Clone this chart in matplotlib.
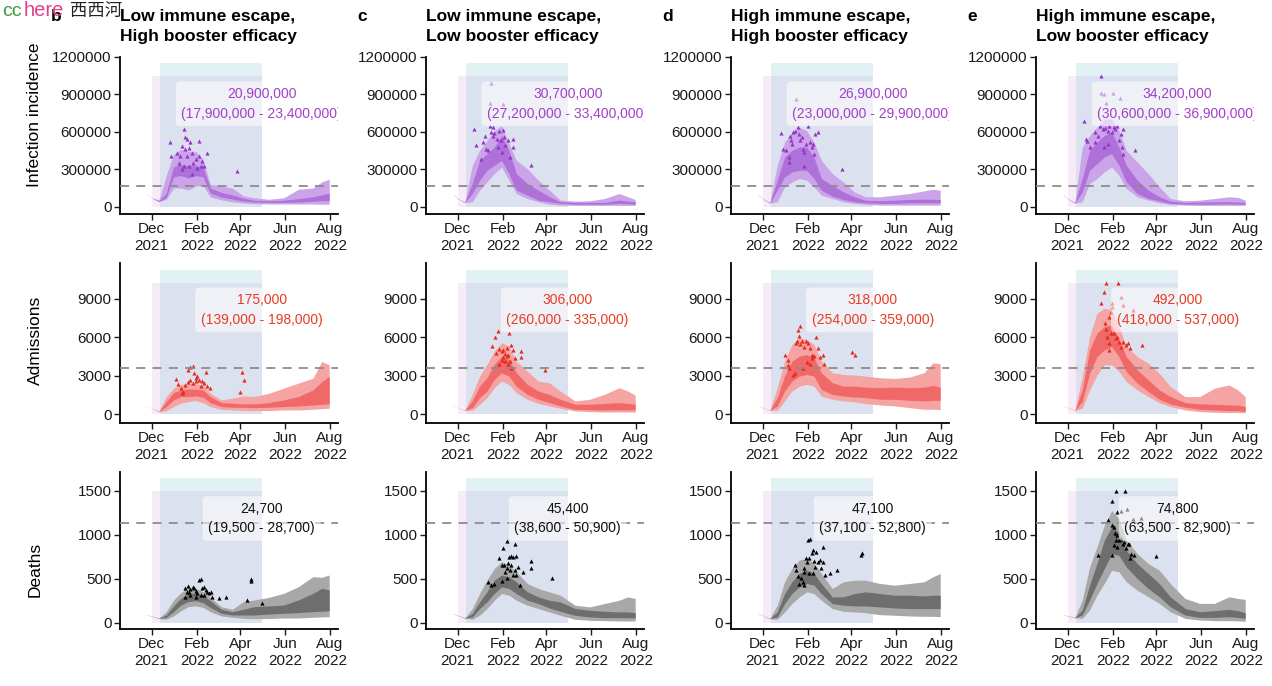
import numpy as np
import pandas as pd
import matplotlib
matplotlib.use("Agg")
import matplotlib.pyplot as plt

plt.rcParams['font.family'] = ['Liberation Sans', 'DejaVu Sans']

# ---- shared time grid for the projection bands ----
band_dates = ['2021-11-25', '2021-12-01', '2021-12-11', '2021-12-21', '2021-12-31',
              '2022-01-10', '2022-01-20', '2022-01-30', '2022-02-09', '2022-02-19',
              '2022-03-06', '2022-03-21', '2022-04-05', '2022-04-20', '2022-05-10',
              '2022-05-30', '2022-06-19', '2022-07-09', '2022-07-21', '2022-07-31']
obs_origin = '2021-12-01'   # observation days are counted from here

scenarios = ['b', 'c', 'd', 'e']
titles = ['Low immune escape,\nHigh booster efficacy',
          'Low immune escape,\nLow booster efficacy',
          'High immune escape,\nHigh booster efficacy',
          'High immune escape,\nLow booster efficacy']
measures = ['inf', 'adm', 'dth']
ylabels = ['Infection incidence', 'Admissions', 'Deaths']

# ---- infection incidence (thousands) ----
inf_b_lo95 = [98, 72, 40, 60, 150, 150, 135, 165, 170, 80, 55, 40, 30, 25, 22, 22, 22, 22, 20, 20]
inf_b_lo50 = [100, 72, 42, 75, 240, 250, 230, 250, 240, 110, 78, 62, 45, 38, 35, 35, 38, 45, 48, 50]
inf_b_hi50 = [100, 72, 48, 110, 320, 340, 330, 330, 320, 150, 115, 95, 68, 52, 48, 52, 65, 80, 95, 110]
inf_b_hi95 = [102, 74, 55, 250, 420, 460, 445, 445, 380, 180, 165, 150, 88, 72, 60, 72, 140, 150, 200, 220]

inf_c_lo95 = [98, 64, 33, 40, 133, 199, 265, 318, 212, 106, 66, 40, 21, 13, 11, 11, 11, 11, 11, 11]
inf_c_lo50 = [100, 66, 35, 106, 212, 292, 332, 372, 265, 133, 93, 53, 40, 27, 21, 21, 20, 27, 25, 21]
inf_c_hi50 = [100, 66, 37, 186, 372, 425, 478, 570, 451, 265, 186, 133, 80, 40, 35, 35, 35, 53, 45, 40]
inf_c_hi95 = [102, 68, 40, 332, 451, 531, 610, 650, 504, 372, 305, 212, 133, 53, 45, 48, 66, 106, 80, 58]

inf_d_lo95 = [98, 64, 28, 40, 159, 199, 226, 212, 159, 93, 66, 40, 27, 18, 13, 13, 13, 13, 13, 13]
inf_d_lo50 = [100, 66, 30, 133, 239, 279, 292, 292, 226, 133, 85, 58, 40, 32, 27, 27, 32, 32, 32, 32]
inf_d_hi50 = [100, 66, 33, 212, 398, 451, 478, 478, 398, 226, 172, 119, 80, 53, 48, 53, 58, 61, 60, 58]
inf_d_hi95 = [102, 68, 36, 332, 518, 597, 637, 610, 518, 372, 265, 199, 119, 80, 80, 93, 106, 127, 140, 133]

inf_e_lo95 = [98, 64, 28, 40, 186, 226, 279, 318, 252, 146, 80, 53, 32, 18, 13, 11, 11, 11, 11, 11]
inf_e_lo50 = [100, 66, 30, 119, 292, 345, 398, 425, 332, 199, 106, 66, 48, 27, 21, 21, 21, 24, 22, 21]
inf_e_hi50 = [100, 66, 33, 226, 451, 518, 571, 597, 478, 332, 212, 133, 80, 45, 35, 37, 40, 40, 38, 35]
inf_e_hi95 = [102, 68, 36, 478, 571, 637, 704, 704, 610, 451, 358, 265, 159, 66, 48, 53, 66, 80, 75, 53]

# ---- admissions ----
adm_b_lo95 = [640, 460, 190, 290, 600, 860, 990, 1070, 910, 600, 390, 340, 290, 290, 290, 340, 340, 390, 440, 470]
adm_b_lo50 = [650, 470, 210, 600, 1120, 1380, 1380, 1440, 1330, 910, 600, 550, 550, 520, 550, 600, 650, 730, 780, 810]
adm_b_hi50 = [650, 470, 230, 990, 1700, 1900, 1960, 1960, 1900, 1380, 910, 860, 810, 810, 910, 1120, 1380, 1900, 2560, 2950]
adm_b_hi95 = [660, 480, 250, 1380, 2040, 2300, 2430, 2380, 2300, 1640, 1120, 1250, 1440, 1380, 1640, 2040, 2430, 2820, 4120, 3860]

adm_c_lo95 = [640, 510, 300, 310, 780, 1300, 2070, 2590, 2330, 1680, 1170, 850, 650, 470, 260, 210, 180, 180, 180, 170]
adm_c_lo50 = [650, 520, 310, 520, 1300, 1810, 2720, 3240, 2980, 2200, 1550, 1170, 910, 650, 390, 360, 340, 360, 360, 340]
adm_c_hi50 = [650, 520, 320, 1040, 2200, 2850, 3890, 4530, 4270, 3240, 2330, 1810, 1550, 1170, 780, 780, 850, 910, 850, 780]
adm_c_hi95 = [660, 530, 330, 1550, 2980, 3890, 4920, 5570, 5310, 4140, 3370, 2590, 2460, 1810, 1040, 1170, 1550, 2070, 1810, 1500]

adm_d_lo95 = [640, 510, 300, 310, 1040, 1810, 2200, 2330, 2200, 1420, 1170, 1040, 980, 830, 730, 650, 520, 390, 390, 370]
adm_d_lo50 = [650, 520, 310, 650, 1810, 2590, 2980, 3110, 2980, 1940, 1550, 1420, 1350, 1300, 1170, 1170, 1090, 1040, 1090, 1090]
adm_d_hi50 = [650, 520, 320, 1300, 2980, 4140, 4530, 4660, 4400, 3240, 2460, 2200, 2200, 2120, 2070, 2120, 2070, 2120, 2250, 2120]
adm_d_hi95 = [660, 530, 330, 2070, 4140, 5440, 5960, 5830, 5440, 4140, 3240, 3110, 3060, 2980, 2850, 2800, 2900, 3240, 4010, 3940]

adm_e_lo95 = [640, 540, 280, 470, 1900, 3070, 3850, 3850, 3330, 2550, 1900, 1380, 910, 600, 340, 210, 160, 130, 130, 130]
adm_e_lo50 = [650, 550, 290, 990, 3200, 4500, 5020, 5280, 4500, 3330, 2420, 1770, 1170, 810, 550, 390, 340, 290, 290, 230]
adm_e_hi50 = [650, 550, 300, 1900, 5020, 6320, 6840, 6970, 5800, 4500, 3460, 2680, 1900, 1380, 910, 810, 780, 730, 720, 600]
adm_e_hi95 = [660, 560, 310, 2940, 6060, 7880, 8270, 8140, 6840, 5280, 4500, 3980, 3200, 2160, 1380, 1380, 2030, 2290, 1900, 1380]

# ---- deaths ----
dth_b_lo95 = [85, 74, 47, 38, 76, 136, 182, 190, 174, 125, 76, 61, 49, 45, 47, 53, 53, 61, 66, 68]
dth_b_lo50 = [87, 76, 49, 61, 125, 200, 239, 250, 227, 174, 106, 87, 87, 87, 98, 106, 114, 125, 130, 136]
dth_b_hi50 = [87, 76, 51, 87, 190, 277, 333, 333, 315, 250, 152, 125, 152, 182, 190, 200, 258, 333, 390, 371]
dth_b_hi95 = [89, 78, 53, 125, 258, 341, 390, 390, 352, 288, 182, 152, 239, 258, 288, 333, 409, 523, 515, 542]

dth_c_lo95 = [101, 82, 51, 38, 84, 160, 255, 331, 312, 255, 198, 160, 122, 84, 38, 27, 23, 19, 19, 19]
dth_c_lo50 = [103, 84, 53, 65, 160, 236, 331, 407, 388, 331, 255, 217, 167, 129, 84, 65, 57, 57, 57, 53]
dth_c_hi50 = [103, 84, 55, 103, 236, 350, 483, 540, 521, 464, 350, 293, 255, 236, 160, 141, 129, 122, 122, 114]
dth_c_hi95 = [105, 86, 57, 160, 331, 483, 616, 692, 654, 578, 445, 388, 350, 312, 198, 179, 217, 255, 293, 274]

dth_d_lo95 = [101, 82, 44, 38, 122, 217, 293, 350, 331, 255, 160, 129, 122, 114, 91, 84, 76, 72, 72, 68]
dth_d_lo50 = [103, 84, 46, 65, 217, 331, 407, 445, 426, 331, 217, 198, 190, 190, 179, 167, 160, 160, 160, 160]
dth_d_hi50 = [103, 84, 48, 122, 331, 464, 559, 597, 559, 445, 293, 293, 331, 350, 331, 312, 312, 304, 312, 312]
dth_d_hi95 = [105, 86, 50, 198, 464, 616, 711, 730, 673, 559, 388, 464, 483, 483, 445, 426, 445, 464, 521, 559]

dth_e_lo95 = [85, 77, 55, 49, 143, 313, 445, 596, 577, 464, 369, 294, 219, 124, 49, 30, 23, 23, 20, 15]
dth_e_lo50 = [87, 79, 57, 87, 256, 445, 614, 784, 765, 633, 501, 388, 294, 181, 87, 60, 60, 68, 60, 49]
dth_e_hi50 = [87, 79, 59, 143, 426, 671, 935, 1086, 1029, 822, 671, 558, 445, 294, 162, 124, 136, 151, 136, 113]
dth_e_hi95 = [89, 81, 61, 256, 633, 860, 1105, 1274, 1180, 935, 784, 671, 596, 445, 275, 219, 219, 294, 275, 264]

# ---- observed / comparison points (days since obs_origin) ----
inf_b_obs_day = [25, 27, 44, 48, 64, 76, 116, 34, 37, 39, 41, 44, 46, 48, 51, 53, 55, 57, 60, 62, 64, 67, 69, 71, 55, 41, 46, 51]
inf_b_obs_val = [520, 407, 627, 541, 523, 429, 287, 434, 354, 407, 488, 327, 461, 407, 327, 515, 434, 354, 380, 314, 407, 327, 367, 327, 260, 300, 555, 474]
inf_c_obs_day = [45, 44, 62, 23, 100, 25, 32, 37, 39, 44, 46, 48, 50, 54, 56, 59, 62, 63, 65, 69, 71, 76, 76, 34, 41, 48, 60, 55]
inf_c_obs_val = [990, 831, 823, 624, 332, 491, 385, 571, 465, 650, 597, 637, 590, 544, 611, 531, 616, 557, 491, 531, 398, 544, 478, 518, 451, 571, 438, 478]
inf_d_obs_day = [25, 28, 32, 36, 38, 39, 41, 44, 46, 48, 50, 51, 54, 55, 57, 56, 59, 62, 64, 67, 69, 70, 71, 76, 36, 108, 40]
inf_d_obs_val = [590, 465, 451, 398, 571, 531, 597, 611, 863, 637, 584, 531, 557, 465, 438, 324, 504, 650, 518, 478, 504, 425, 584, 597, 358, 305, 504]
inf_e_obs_day = [23, 25, 26, 31, 37, 38, 41, 44, 45, 46, 50, 53, 62, 72, 48, 51, 55, 57, 60, 63, 65, 68, 70, 73, 76, 74, 76, 92, 55, 50]
inf_e_obs_val = [685, 544, 526, 478, 597, 518, 571, 650, 1049, 908, 903, 828, 908, 871, 624, 632, 611, 650, 597, 642, 624, 650, 531, 584, 624, 478, 420, 457, 504, 478]

adm_b_obs_day = [33, 36, 40, 43, 46, 50, 52, 56, 58, 60, 62, 65, 67, 69, 71, 74, 76, 80, 49, 53, 57, 61, 123, 126, 121, 42]
adm_b_obs_val = [2740, 2380, 2040, 1770, 2300, 3470, 3680, 3780, 3210, 2820, 2950, 2640, 2170, 2560, 2430, 3260, 2170, 2040, 2480, 2690, 2430, 2560, 3260, 2690, 1700, 1640]
adm_c_obs_day = [55, 70, 51, 47, 53, 57, 60, 62, 64, 67, 69, 71, 73, 76, 78, 87, 87, 57, 60, 64, 69, 73, 62, 67, 119]
adm_c_obs_val = [6530, 6350, 6010, 5310, 4790, 5130, 4920, 5050, 4710, 4530, 4660, 4140, 5390, 5050, 4400, 4920, 4450, 3890, 4270, 4140, 3940, 3630, 4450, 5180, 3420]
adm_d_obs_day = [31, 34, 34, 36, 42, 46, 47, 48, 51, 50, 51, 54, 56, 59, 62, 64, 67, 68, 70, 73, 76, 78, 83, 84, 60, 64, 44, 55, 122, 126]
adm_d_obs_val = [4660, 4200, 3830, 3630, 3060, 5570, 5750, 6600, 6860, 6090, 5490, 5750, 5230, 5700, 5570, 5180, 4660, 4400, 4530, 6010, 5180, 4450, 4660, 3940, 4090, 3940, 3240, 3630, 4840, 4610]
adm_e_obs_day = [45, 49, 52, 69, 59, 60, 61, 73, 76, 89, 51, 52, 54, 56, 56, 59, 63, 66, 68, 70, 73, 76, 79, 83, 85, 102, 56]
adm_e_obs_val = [8660, 9570, 10270, 10270, 8010, 8400, 8660, 9180, 8530, 8140, 7100, 6630, 6060, 5540, 5020, 6320, 6370, 5930, 6060, 5670, 5280, 5670, 5410, 5590, 5150, 5410, 7620]

dth_b_obs_day = [45, 48, 50, 51, 53, 56, 58, 60, 62, 65, 67, 69, 71, 74, 76, 78, 81, 83, 92, 102, 53, 60, 71, 130, 136, 136, 150, 46, 67]
dth_b_obs_val = [390, 352, 417, 352, 379, 402, 390, 364, 333, 485, 493, 390, 402, 371, 352, 333, 352, 296, 277, 288, 315, 296, 315, 258, 478, 496, 227, 296, 315]
dth_c_obs_day = [41, 50, 57, 62, 67, 78, 70, 73, 76, 80, 60, 63, 64, 67, 69, 71, 73, 76, 78, 80, 83, 85, 89, 100, 100, 128, 67, 60, 46]
dth_c_obs_val = [464, 445, 730, 844, 927, 889, 749, 760, 749, 760, 654, 654, 578, 616, 673, 597, 654, 547, 597, 540, 635, 433, 578, 699, 616, 509, 502, 471, 433]
dth_d_obs_day = [44, 46, 48, 50, 53, 55, 56, 57, 59, 60, 62, 64, 63, 67, 69, 70, 71, 73, 76, 78, 80, 82, 83, 85, 92, 101, 134, 135, 69, 63, 57]
dth_d_obs_val = [654, 597, 532, 445, 502, 464, 426, 616, 730, 692, 939, 950, 730, 787, 825, 699, 635, 806, 692, 711, 616, 863, 684, 547, 559, 597, 768, 787, 559, 559, 578]
dth_e_obs_day = [41, 60, 66, 78, 60, 55, 67, 73, 81, 89, 100, 63, 64, 66, 68, 70, 73, 75, 77, 79, 82, 84, 86, 85, 90, 120, 63, 68, 61]
dth_e_obs_val = [773, 773, 1493, 1493, 1380, 1169, 1255, 1274, 1293, 1180, 1191, 1086, 1018, 935, 991, 935, 954, 897, 916, 852, 897, 897, 784, 739, 765, 758, 878, 860, 1105]

# ---- cumulative totals shown in the label boxes ----
inf_totals = ['20,900,000\n(17,900,000 - 23,400,000)', '30,700,000\n(27,200,000 - 33,400,000)',
              '26,900,000\n(23,000,000 - 29,900,000)', '34,200,000\n(30,600,000 - 36,900,000)']
adm_totals = ['175,000\n(139,000 - 198,000)', '306,000\n(260,000 - 335,000)',
              '318,000\n(254,000 - 359,000)', '492,000\n(418,000 - 537,000)']
dth_totals = ['24,700\n(19,500 - 28,700)', '45,400\n(38,600 - 50,900)',
              '47,100\n(37,100 - 52,800)', '74,800\n(63,500 - 82,900)']

# reference thresholds (dashed lines)
inf_threshold = 170000
adm_threshold = 3600
dth_threshold = 1130

# ---- styling per measure ----
g = globals()
style = {
    'inf': dict(outer='#cba3e8', inner='#ae70d9', pts='#9435c8', txt='#a23fc9', scale=1000,
                ylim=(-58000, 1200000), yticks=[0, 300000, 600000, 900000, 1200000],
                thr=inf_threshold, pink=1050000, cyan=1150000, lab_y=825000, totals=inf_totals),
    'adm': dict(outer='#f5a3a3', inner='#f06868', pts='#e62a1c', txt='#e63b26', scale=1,
                ylim=(-680, 11800), yticks=[0, 3000, 6000, 9000],
                thr=adm_threshold, pink=10260, cyan=11250, lab_y=8140, totals=adm_totals),
    'dth': dict(outer='#a8a8a8', inner='#6e6e6e', pts='#000000', txt='#111111', scale=1,
                ylim=(-72, 1712), yticks=[0, 500, 1000, 1500],
                thr=dth_threshold, pink=1500, cyan=1641, lab_y=1183, totals=dth_totals),
}

W, H = 1272, 686
col_left = [120, 426, 731, 1036]
col_w = 218
row_top = [57, 263, 472]
row_bot = [214, 423, 629]
ylab_y = [115, 340, 569]

x_band = pd.to_datetime(band_dates)
origin = pd.Timestamp(obs_origin)
xticks = pd.to_datetime(['2021-12-01', '2022-02-01', '2022-04-01', '2022-06-01', '2022-08-01'])
xticklabels = ['Dec\n2021', 'Feb\n2022', 'Apr\n2022', 'Jun\n2022', 'Aug\n2022']
xlim = (pd.Timestamp('2021-10-19'), pd.Timestamp('2022-08-12'))

fig = plt.figure(figsize=(W / 100, H / 100), dpi=100)

for r, m in enumerate(measures):
    st = style[m]
    for c, s in enumerate(scenarios):
        ax = fig.add_axes([col_left[c] / W, 1 - row_bot[r] / H,
                           col_w / W, (row_bot[r] - row_top[r]) / H])
        k = st['scale']
        lo95 = np.array(g[f'{m}_{s}_lo95']) * k
        lo50 = np.array(g[f'{m}_{s}_lo50']) * k
        hi50 = np.array(g[f'{m}_{s}_hi50']) * k
        hi95 = np.array(g[f'{m}_{s}_hi95']) * k

        # intervention periods
        ax.fill_between(pd.to_datetime(['2021-12-01', '2022-04-30']), 0, st['pink'],
                        color='#cc66cc', alpha=0.13, lw=0, zorder=1)
        ax.fill_between(pd.to_datetime(['2021-12-13', '2022-04-30']), 0, st['cyan'],
                        color='#6dbbcc', alpha=0.2, lw=0, zorder=1)

        ax.fill_between(x_band, lo95, hi95, color=st['outer'], lw=0, zorder=2)
        ax.fill_between(x_band, lo50, hi50, color=st['inner'], lw=0, zorder=3)

        od = origin + pd.to_timedelta(g[f'{m}_{s}_obs_day'], unit='D')
        ov = np.array(g[f'{m}_{s}_obs_val']) * k
        ax.scatter(od, ov, marker='^', s=9, color=st['pts'], lw=0, zorder=4)

        ax.axhline(st['thr'], color='#8c8c8c', ls=(0, (5, 4)), lw=1.3, zorder=5)

        ax.text(pd.Timestamp('2022-04-30'), st['lab_y'], st['totals'][c],
                ha='center', va='center', fontsize=10, color=st['txt'], linespacing=1.5,
                zorder=6, clip_on=True,
                bbox=dict(boxstyle='round,pad=0.4,rounding_size=0.3', fc='white',
                          ec='none', alpha=0.55))

        ax.set_xlim(*xlim)
        ax.set_ylim(*st['ylim'])
        ax.set_xticks(xticks)
        ax.set_xticklabels(xticklabels)
        ax.set_yticks(st['yticks'])
        ax.set_yticklabels([str(v) for v in st['yticks']])
        ax.tick_params(labelsize=11, length=4, width=1, colors='#1a1a1a', pad=2)
        ax.patch.set_visible(False)
        for side in ['top', 'right']:
            ax.spines[side].set_visible(False)
        for side in ['left', 'bottom']:
            ax.spines[side].set_linewidth(1.3)

        if r == 0:
            fig.text(col_left[c] / W, 1 - 9 / H, titles[c], ha='left', va='top',
                     fontsize=12.5, fontweight='bold', linespacing=1.4)
            fig.text((col_left[c] - 69) / W, 1 - 9 / H, s, ha='left', va='top',
                     fontsize=12.5, fontweight='bold')

    fig.text(35 / W, 1 - ylab_y[r] / H, ylabels[r], rotation=90, ha='center',
             va='center', fontsize=12.5)

# watermark in the top-left corner (sits over the "b" as in the source image)
fig.text(2 / W, 1 - 11 / H, 'cc', color='#3c9a3c', fontsize=14, va='center')
fig.text(24 / W, 1 - 11 / H, 'here', color='#e0408c', fontsize=14.5, va='center')
fig.text(70 / W, 1 - 11 / H, '西西河', color='#222222', fontsize=12.5, va='center',
         family=['Noto Sans CJK SC', 'DejaVu Sans'])

fig.savefig('out.png', dpi=100)
